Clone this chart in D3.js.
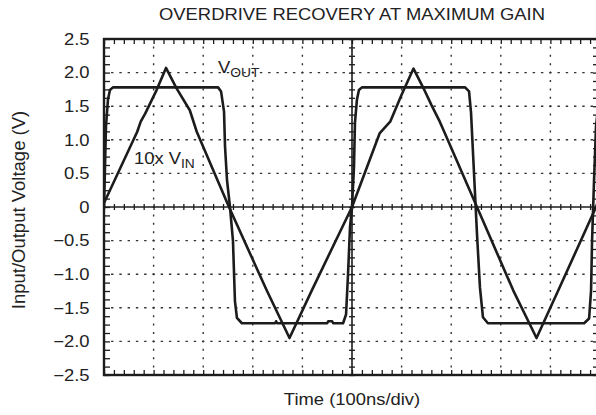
<!DOCTYPE html>
<html><head><meta charset="utf-8">
<script src="https://cdn.jsdelivr.net/npm/d3@7"></script>
<style>
html,body{margin:0;padding:0;background:#fff;}
svg{display:block;font-family:"Liberation Sans",Arial,sans-serif;}
</style></head>
<body><svg id="c" width="596" height="415"></svg>
<script>
// ---- data ----
const title = "OVERDRIVE RECOVERY AT MAXIMUM GAIN";
const xLabel = "Time (100ns/div)";
const yLabel = "Input/Output Voltage (V)";
const yTicks = [2.5, 2.0, 1.5, 1.0, 0.5, 0, -0.5, -1.0, -1.5, -2.0, -2.5];
// time in divisions (100ns/div)
const vinTime = [0, 0.67, 0.74, 0.83, 1.06, 1.25, 1.46, 1.73, 1.87, 2.52, 3.28, 3.74, 4.19, 5.0, 5.56, 5.77, 6.0, 6.24, 6.44, 6.6, 6.77, 6.87, 7.52, 8.25, 8.72, 9.16, 9.92, 10.0];
const vinVals = [0.06, 1.12, 1.27, 1.39, 1.74, 2.07, 1.77, 1.44, 1.12, 0.0, -1.24, -1.95, -1.24, 0.0, 1.10, 1.27, 1.67, 2.06, 1.77, 1.52, 1.27, 1.10, 0.0, -1.24, -1.95, -1.24, 0.0, 0.16];
const voutTime = [0, 0.04, 0.08, 0.12, 0.18, 2.30, 2.36, 2.42, 2.44, 2.48, 2.54, 2.60, 2.64, 2.68, 2.78, 3.45, 3.47, 3.49, 4.50, 4.52, 4.60, 4.62, 4.82, 4.88, 4.92, 4.96, 5.0, 5.04, 5.06, 5.10, 5.14, 5.20, 7.28, 7.36, 7.40, 7.44, 7.48, 7.52, 7.58, 7.64, 7.74, 9.68, 9.78, 9.82, 9.84, 9.88, 9.92, 10.0];
const voutVals = [0.0, 1.2, 1.6, 1.74, 1.78, 1.78, 1.72, 1.42, 0.9, 0.4, 0.0, -0.5, -1.4, -1.65, -1.73, -1.73, -1.70, -1.73, -1.73, -1.70, -1.70, -1.73, -1.73, -1.6, -1.0, -0.3, 0.0, 0.6, 1.26, 1.6, 1.74, 1.78, 1.78, 1.72, 1.4, 0.8, 0.2, -0.4, -1.2, -1.64, -1.73, -1.73, -1.66, -1.24, -0.5, 0.4, 1.2, 1.75];

// ---- layout ----
const svg = d3.select("#c");
const L = 104, R = 600, T = 39, B = 375;
const x = d3.scaleLinear().domain([0, 10]).range([L, R]);
const y = d3.scaleLinear().domain([-2.5, 2.5]).range([B, T]);
const ink = "#1c1c1c";
const SX = 1.15; // horizontal stretch of the original lettering

svg.append("defs").append("clipPath").attr("id", "clip")
  .append("rect").attr("x", L).attr("y", T).attr("width", R - L).attr("height", B - T);

// dotted grid
const g = svg.append("g");
const xMajor = d3.range(1, 10).filter(d => d !== 5);
const yMajor = [-2, -1.5, -1, -0.5, 0.5, 1, 1.5, 2];
const xStep = (x(1) - x(0)) / 6;
const yStep = (y(0) - y(0.5)) / 4;
g.selectAll("line.hg").data(yMajor).join("line")
  .attr("x1", L).attr("x2", R).attr("y1", d => y(d)).attr("y2", d => y(d))
  .attr("stroke", "#333").attr("stroke-width", 1.4)
  .attr("stroke-dasharray", `2.4 ${xStep - 2.4}`).attr("stroke-dashoffset", 1.2);
g.selectAll("line.vg").data(xMajor).join("line")
  .attr("y1", T).attr("y2", B).attr("x1", d => x(d)).attr("x2", d => x(d))
  .attr("stroke", "#333").attr("stroke-width", 1.4)
  .attr("stroke-dasharray", `2 ${yStep - 2}`).attr("stroke-dashoffset", 1);

// minor tick values
const xMinor = d3.range(0, 50).map(i => i / 5);
const yMinor = d3.range(0, 41).map(i => -2.5 + i * 0.125);

function styleAxis(sel) {
  sel.select(".domain").remove();
  sel.selectAll(".tick line").attr("stroke", ink).attr("stroke-width", 1.3);
  sel.selectAll(".tick text").remove();
}
// frame ticks (inward)
svg.append("g").attr("transform", `translate(0,${T})`)
  .call(d3.axisTop(x).tickValues(xMinor).tickSize(-5)).call(styleAxis);
svg.append("g").attr("transform", `translate(0,${B})`)
  .call(d3.axisBottom(x).tickValues(xMinor).tickSize(-5)).call(styleAxis);
svg.append("g").attr("transform", `translate(${L},0)`)
  .call(d3.axisLeft(y).tickValues(yMinor).tickSize(-6)).call(styleAxis);
svg.append("g").attr("transform", `translate(${R},0)`)
  .call(d3.axisRight(y).tickValues(yMinor).tickSize(-7)).call(styleAxis);
// center axes with crossing ticks
svg.append("g").attr("transform", `translate(0,${y(0) + 3})`)
  .call(d3.axisTop(x).tickValues(xMinor).tickSize(6)).call(styleAxis);
svg.append("g").attr("transform", `translate(${x(5) + 3},0)`)
  .call(d3.axisLeft(y).tickValues(yMinor).tickSize(6)).call(styleAxis);
svg.append("line").attr("x1", L).attr("x2", R).attr("y1", y(0)).attr("y2", y(0))
  .attr("stroke", ink).attr("stroke-width", 1.6);
svg.append("line").attr("x1", x(5)).attr("x2", x(5)).attr("y1", T).attr("y2", B)
  .attr("stroke", ink).attr("stroke-width", 1.6);

// frame
svg.append("rect").attr("x", L).attr("y", T).attr("width", R - L).attr("height", B - T)
  .attr("fill", "none").attr("stroke", ink).attr("stroke-width", 2.4);

// y tick labels
const fmt = d => d === 0 ? "0" : d3.format(".1f")(d);
svg.append("g").selectAll("text").data(yTicks).join("text")
  .attr("transform", d => `translate(89.5,${y(d)}) scale(${SX},1)`)
  .attr("dy", "0.36em").attr("text-anchor", "end")
  .attr("font-size", 16).attr("fill", "#222").text(fmt);

// waveforms
const line = d3.line().x(d => x(d[0])).y(d => y(d[1]));
const plot = svg.append("g").attr("clip-path", "url(#clip)");
plot.append("path").datum(d3.zip(vinTime, vinVals)).attr("d", line)
  .attr("fill", "none").attr("stroke", ink).attr("stroke-width", 2.6).attr("stroke-linejoin", "round");
plot.append("path").datum(d3.zip(voutTime, voutVals)).attr("d", line)
  .attr("fill", "none").attr("stroke", ink).attr("stroke-width", 2.6).attr("stroke-linejoin", "round");

// trace labels
function traceLabel(px, py, main, sub) {
  const t = svg.append("text").attr("transform", `translate(${px},${py}) scale(${SX},1)`)
    .attr("font-size", 16).attr("fill", "#222");
  t.append("tspan").text(main);
  t.append("tspan").attr("font-size", 12).attr("dy", 4).text(sub);
}
traceLabel(218, 73, "V", "OUT");
traceLabel(134, 163.5, "10x V", "IN");

// titles
svg.append("text").attr("transform", `translate(352,20) scale(${SX},1)`)
  .attr("text-anchor", "middle").attr("font-size", 16).attr("fill", "#222").text(title);
svg.append("text").attr("transform", `translate(352,405) scale(${SX},1)`)
  .attr("text-anchor", "middle").attr("font-size", 16).attr("fill", "#222").text(xLabel);
svg.append("text").attr("transform", `translate(24.5,210) rotate(-90)`)
  .attr("text-anchor", "middle").attr("font-size", 18.5).attr("fill", "#222").text(yLabel);
</script></body></html>
